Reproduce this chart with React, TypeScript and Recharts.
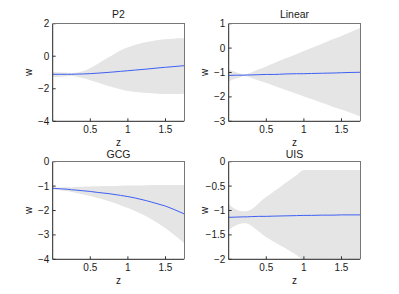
import React from 'react';
import { ComposedChart, Area, Line, XAxis, YAxis, Label } from 'recharts';

const zValues = [0, 0.1, 0.2, 0.25, 0.3, 0.4, 0.5, 0.6, 0.75, 0.9, 1.0, 1.1, 1.25, 1.4, 1.5, 1.6, 1.75];

const p2Mid = [-1.11, -1.11, -1.11, -1.11, -1.1, -1.09, -1.07, -1.04, -0.99, -0.93, -0.89, -0.85, -0.79, -0.72, -0.68, -0.64, -0.58];
const p2Hi = [-0.97, -0.99, -1.02, -1.03, -1.02, -0.93, -0.72, -0.46, -0.05, 0.36, 0.55, 0.71, 0.87, 1.0, 1.04, 1.08, 1.1];
const p2Lo = [-1.28, -1.26, -1.23, -1.22, -1.24, -1.34, -1.48, -1.62, -1.85, -2.03, -2.14, -2.2, -2.26, -2.3, -2.32, -2.32, -2.3];

const linMid = [-1.12, -1.11, -1.11, -1.1, -1.1, -1.09, -1.08, -1.08, -1.06, -1.05, -1.05, -1.04, -1.03, -1.02, -1.01, -1.0, -0.99];
const linHi = [-0.88, -0.99, -1.07, -1.06, -1.0, -0.87, -0.75, -0.62, -0.43, -0.25, -0.12, 0.0, 0.19, 0.38, 0.5, 0.63, 0.82];
const linLo = [-1.36, -1.25, -1.15, -1.16, -1.22, -1.33, -1.43, -1.54, -1.71, -1.87, -1.98, -2.09, -2.25, -2.42, -2.52, -2.63, -2.8];

const gcgMid = [-1.09, -1.11, -1.13, -1.15, -1.16, -1.19, -1.22, -1.26, -1.31, -1.38, -1.43, -1.49, -1.6, -1.73, -1.82, -1.94, -2.14];
const gcgHi = [-1.06, -1.06, -1.05, -1.05, -1.04, -1.03, -1.02, -1.01, -1.0, -0.99, -0.98, -0.98, -0.97, -0.96, -0.96, -0.96, -0.96];
const gcgLo = [-1.13, -1.17, -1.21, -1.24, -1.27, -1.34, -1.41, -1.49, -1.62, -1.78, -1.9, -2.03, -2.25, -2.52, -2.73, -2.96, -3.34];

const uisMid = [-1.14, -1.135, -1.13, -1.13, -1.125, -1.12, -1.12, -1.115, -1.11, -1.105, -1.1, -1.1, -1.095, -1.095, -1.09, -1.09, -1.09];
const uisHi = [-0.87, -0.98, -1.02, -1.01, -0.98, -0.85, -0.72, -0.61, -0.44, -0.28, -0.17, -0.17, -0.17, -0.17, -0.17, -0.17, -0.17];
const uisLo = [-1.39, -1.3, -1.26, -1.27, -1.31, -1.43, -1.55, -1.64, -1.77, -1.91, -2.0, -2.0, -2.0, -2.0, -2.0, -2.0, -2.0];

const xTicks = [0.5, 1, 1.5];
const p2Ticks = [-4, -2, 0, 2];
const linTicks = [-3, -2, -1, 0, 1];
const gcgTicks = [-4, -3, -2, -1, 0];
const uisTicks = [-2, -1.5, -1, -0.5, 0];

const FONT = '"Liberation Sans", Arial, Helvetica, sans-serif';
const fmt = (v: number) => String(v).replace('-', '\u2212');

type PanelProps = {
  title: string;
  mid: number[];
  lo: number[];
  hi: number[];
  ticks: number[];
  left: number;
  top: number;
  titleY: number;
};

const PLOT_LEFT = 52.7;
const PLOT_TOP = 23.7;
const PLOT_W = 131.6;
const PLOT_H = 97.6;
const RIGHT_M = 10;
const XAX_H = 35;

function Panel({ title, mid, lo, hi, ticks, left, top, titleY }: PanelProps) {
  const data = zValues.map((z, i) => ({ z, mid: mid[i], band: [lo[i], hi[i]] }));
  const dom: [number, number] = [ticks[0], ticks[ticks.length - 1]];
  const W = PLOT_LEFT + PLOT_W + RIGHT_M;
  const H = PLOT_TOP + PLOT_H + XAX_H;
  const tickStyle = { fontSize: 10, fill: '#1a1a1a', fontFamily: FONT };
  return (
    <div style={{ position: 'absolute', left, top, width: W, height: H }}>
      <div
        style={{
          position: 'absolute',
          left: PLOT_LEFT + PLOT_W / 2 - 50,
          width: 100,
          top: titleY - 6,
          height: 12,
          lineHeight: '12px',
          textAlign: 'center',
          fontSize: 10.5,
          fontFamily: FONT,
          color: '#1a1a1a',
        }}
      >
        {title}
      </div>
      <ComposedChart
        width={W}
        height={H}
        data={data}
        margin={{ top: PLOT_TOP, right: RIGHT_M, left: 0, bottom: 0 }}
        style={{ position: 'absolute', left: 0, top: 0 }}
      >
        <XAxis
          dataKey="z"
          type="number"
          domain={[0, 1.75]}
          ticks={xTicks}
          height={XAX_H}
          tickSize={-3}
          tickMargin={7.5}
          tick={tickStyle}
          tickFormatter={fmt}
          axisLine={{ stroke: '#222' }}
          tickLine={{ stroke: '#333' }}
          allowDataOverflow
        >
          <Label value="z" position="center" dy={4} style={{ fontSize: 10, fill: '#1a1a1a', fontFamily: FONT }} />
        </XAxis>
        <YAxis
          type="number"
          domain={dom}
          ticks={ticks}
          width={PLOT_LEFT}
          tickSize={-3}
          tickMargin={6.4}
          tick={tickStyle}
          tickFormatter={fmt}
          axisLine={{ stroke: '#222' }}
          tickLine={{ stroke: '#333' }}
          allowDataOverflow
        >
          <Label value="w" position="center" angle={-90} dx={2.3} style={{ fontSize: 10, fill: '#1a1a1a', fontFamily: FONT }} />
        </YAxis>
        <Area
          dataKey="band"
          type="monotone"
          stroke="none"
          fill="#e5e5e5"
          fillOpacity={1}
          isAnimationActive={false}
          dot={false}
          activeDot={false}
        />
        <Line
          dataKey="mid"
          type="monotone"
          stroke="#3d5ff2"
          strokeWidth={1}
          dot={false}
          activeDot={false}
          isAnimationActive={false}
        />
      </ComposedChart>
      <div
        style={{
          position: 'absolute',
          left: PLOT_LEFT,
          top: PLOT_TOP - 0.5,
          width: PLOT_W + 0.5,
          height: PLOT_H,
          borderTop: '1px solid #777',
          borderRight: '1px solid #777',
          boxSizing: 'border-box',
          pointerEvents: 'none',
        }}
      />
    </div>
  );
}

export default function App() {
  return (
    <div style={{ position: 'absolute', left: 0, top: 0, width: 399, height: 294, background: '#fff', overflow: 'hidden' }}>
      <Panel title="P2" mid={p2Mid} lo={p2Lo} hi={p2Hi} ticks={p2Ticks} left={0} top={0} titleY={14} />
      <Panel title="Linear" mid={linMid} lo={linLo} hi={linHi} ticks={linTicks} left={176} top={0} titleY={13.5} />
      <Panel title="GCG" mid={gcgMid} lo={gcgLo} hi={gcgHi} ticks={gcgTicks} left={0} top={138} titleY={16.3} />
      <Panel title="UIS" mid={uisMid} lo={uisLo} hi={uisHi} ticks={uisTicks} left={176} top={138} titleY={16.3} />
    </div>
  );
}
